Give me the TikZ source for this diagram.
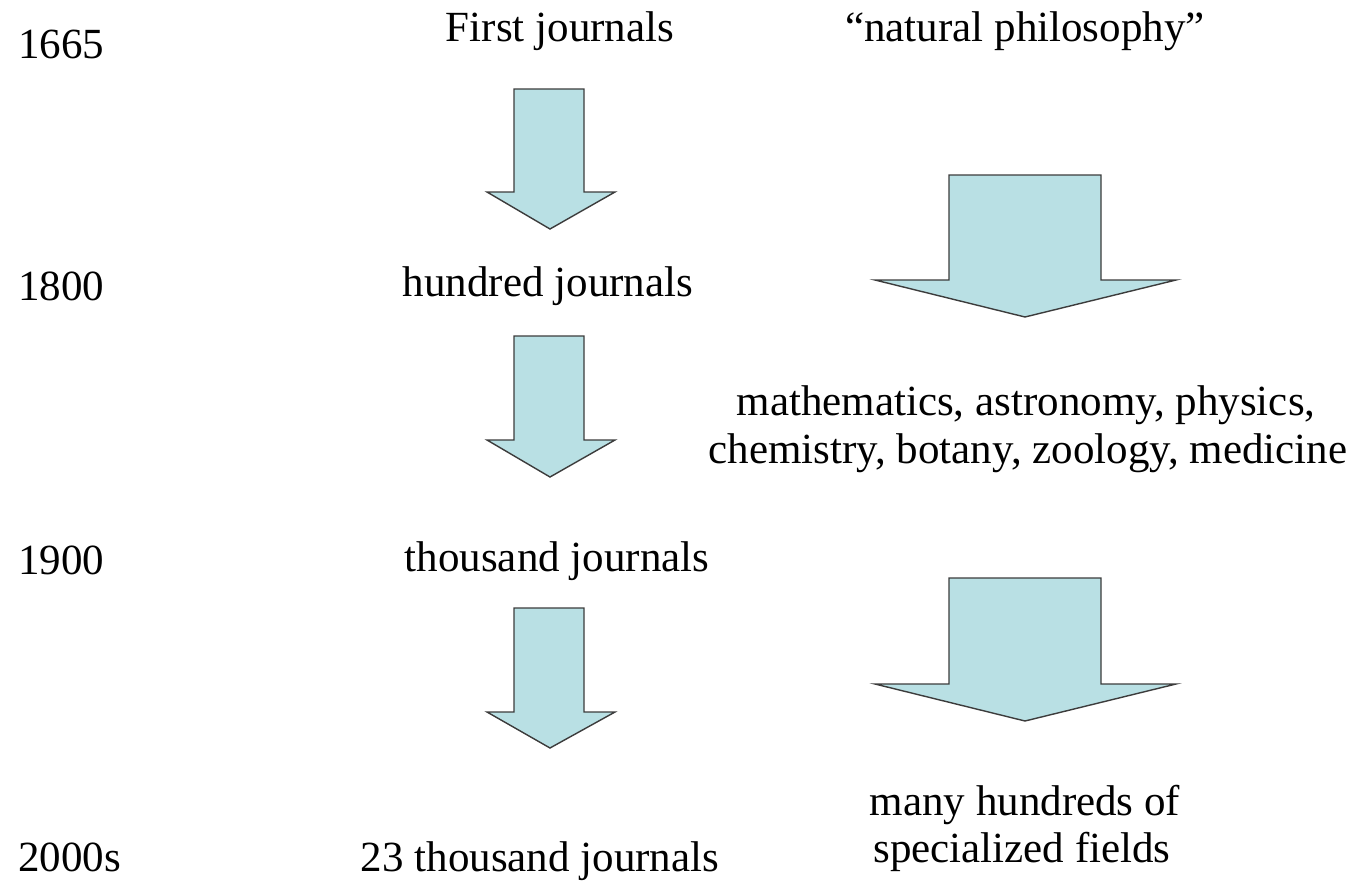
\documentclass[tikz,border=0pt]{standalone}
\usepackage{fontspec}
\setmainfont{Liberation Serif}
\definecolor{arrowfill}{RGB}{185,224,228}
\definecolor{arrowline}{RGB}{60,60,60}
\begin{document}
\begin{tikzpicture}[x=1pt,y=-1pt,
  blockarrow/.style={fill=arrowfill,draw=arrowline,line width=1.4pt,line join=miter},
  lbl/.style={inner sep=0pt,outer sep=0pt,font=\fontsize{43}{48}\selectfont,anchor=base},
  year/.style={lbl,anchor=base west}]
\useasboundingbox[fill=white] (0,0) rectangle (1354,881);
% year labels
\node[year] (y1665) at (18,58) {1665};
\node[year] (y1800) at (18,300) {1800};
\node[year] (y1900) at (18,574) {1900};
\node[year] (y2000) at (18,871) {2000s};
% journal column
\node[lbl] (j1) at (560,41) {First journals};
\node[lbl] (j2) at (548,296) {hundred journals};
\node[lbl] (j3) at (557,571) {thousand journals};
\node[lbl] (j4) at (540,871) {23 thousand journals};
% fields column
\node[lbl] (f1) at (1025,41) {“natural philosophy”};
\node[lbl] (f2a) at (1026,415) {mathematics, astronomy, physics,};
\node[lbl] (f2b) at (1028,463) {chemistry, botany, zoology, medicine};
\node[lbl] (f3a) at (1025,815) {many hundreds of};
\node[lbl] (f3b) at (1022,862) {specialized fields};
% small arrows
\draw[blockarrow] (514,89) -- (584,89) -- (584,192) -- (615,192) -- (550,229) -- (487,192) -- (514,192) -- cycle;
\draw[blockarrow] (514,336) -- (584,336) -- (584,440) -- (615,440) -- (550,477) -- (487,440) -- (514,440) -- cycle;
\draw[blockarrow] (514,608) -- (584,608) -- (584,712) -- (615,712) -- (550,748) -- (487,712) -- (514,712) -- cycle;
% big arrows
\draw[blockarrow] (949,175) -- (1101,175) -- (1101,280) -- (1176,280) -- (1025,317) -- (875,280) -- (949,280) -- cycle;
\draw[blockarrow] (949,578) -- (1101,578) -- (1101,684) -- (1176,684) -- (1025,721) -- (875,684) -- (949,684) -- cycle;
\end{tikzpicture}
\end{document}
